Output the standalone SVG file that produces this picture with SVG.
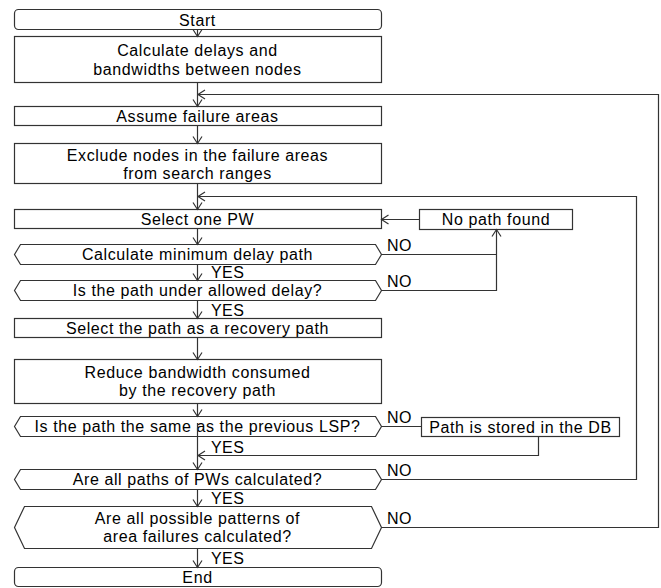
<svg xmlns="http://www.w3.org/2000/svg" width="661" height="588" viewBox="0 0 661 588">
  <style>
    .box { fill: #fff; stroke: #333; stroke-width: 1.2; }
    .ln { fill: none; stroke: #333; stroke-width: 1.2; }
    .t { font-family: "Liberation Sans", Arial, sans-serif; font-size: 16px; letter-spacing: 0.6px; fill: #000; text-anchor: middle; }
    .lbl { font-family: "Liberation Sans", Arial, sans-serif; font-size: 16px; letter-spacing: 0.4px; fill: #000; }
  </style>
  <defs>
    <marker id="arr" markerUnits="userSpaceOnUse" markerWidth="12" markerHeight="12" refX="0" refY="0" viewBox="-8 -6 10 12" orient="auto">
      <path d="M-7,-4.5 L0,0 L-7,4.5" fill="none" stroke="#333" stroke-width="1.2"/>
    </marker>
  </defs>

  <!-- flow nodes -->
  <g id="start">
    <rect class="box" x="14.5" y="9.5" width="367" height="20" rx="4"/>
    <text class="t" x="197.5" y="25.5">Start</text>
  </g>
  <g id="calc-delays">
    <rect class="box" x="14.5" y="36.5" width="367" height="46"/>
    <text class="t" x="197.5" y="56">Calculate delays and</text>
    <text class="t" x="197.5" y="75">bandwidths between nodes</text>
  </g>
  <g id="assume-areas">
    <rect class="box" x="14.5" y="106.5" width="367" height="19"/>
    <text class="t" x="197.5" y="121.5">Assume failure areas</text>
  </g>
  <g id="exclude-nodes">
    <rect class="box" x="14.5" y="143.5" width="367" height="40"/>
    <text class="t" x="197.5" y="160.5">Exclude nodes in the failure areas</text>
    <text class="t" x="197.5" y="178.5">from search ranges</text>
  </g>
  <g id="select-pw">
    <rect class="box" x="14.5" y="209.5" width="367" height="19"/>
    <text class="t" x="197.5" y="224.5">Select one PW</text>
  </g>
  <g id="no-path">
    <rect class="box" x="419.5" y="209.5" width="153" height="20"/>
    <text class="t" x="496" y="225">No path found</text>
  </g>
  <g id="calc-min-delay">
    <polygon class="box" points="14.5,254.5 20.5,244.5 375.5,244.5 381.5,254.5 375.5,264.5 20.5,264.5"/>
    <text class="t" x="197.5" y="260">Calculate minimum delay path</text>
  </g>
  <g id="under-allowed">
    <polygon class="box" points="14.5,290.5 20.5,280.5 375.5,280.5 381.5,290.5 375.5,300.5 20.5,300.5"/>
    <text class="t" x="197.5" y="296">Is the path under allowed delay?</text>
  </g>
  <g id="select-recovery">
    <rect class="box" x="14.5" y="318.5" width="367" height="19"/>
    <text class="t" x="197.5" y="333.5">Select the path as a recovery path</text>
  </g>
  <g id="reduce-bw">
    <rect class="box" x="14.5" y="359.5" width="367" height="44"/>
    <text class="t" x="197.5" y="377.5">Reduce bandwidth consumed</text>
    <text class="t" x="197.5" y="395.5">by the recovery path</text>
  </g>
  <g id="same-as-lsp">
    <polygon class="box" points="14.5,426.5 20.5,416.5 375.5,416.5 381.5,426.5 375.5,436.5 20.5,436.5"/>
    <text class="t" x="197.5" y="432">Is the path the same as the previous LSP?</text>
  </g>
  <g id="stored-db">
    <rect class="box" x="421.5" y="417.5" width="198" height="19"/>
    <text class="t" x="520.5" y="432.5">Path is stored in the DB</text>
  </g>
  <g id="all-pw-paths">
    <polygon class="box" points="14.5,479.5 20.5,469.5 375.5,469.5 381.5,479.5 375.5,489.5 20.5,489.5"/>
    <text class="t" x="197.5" y="485">Are all paths of PWs calculated?</text>
  </g>
  <g id="all-patterns">
    <polygon class="box" points="14.5,527.5 24.5,506.5 371.5,506.5 381.5,527.5 371.5,548.5 24.5,548.5"/>
    <text class="t" x="197.5" y="523.5">Are all possible patterns of</text>
    <text class="t" x="197.5" y="541.5">area failures calculated?</text>
  </g>
  <g id="end">
    <rect class="box" x="14.5" y="567.5" width="367" height="19" rx="4"/>
    <text class="t" x="197.5" y="582.5">End</text>
  </g>

  <!-- connectors -->
  <g id="connectors">
    <path class="ln" d="M197.5,29.5 V36.5" marker-end="url(#arr)"/>
    <path class="ln" d="M197.5,82.5 V106.5" marker-end="url(#arr)"/>
    <path class="ln" d="M197.5,125.5 V143.5" marker-end="url(#arr)"/>
    <path class="ln" d="M197.5,183.5 V209.5" marker-end="url(#arr)"/>
    <path class="ln" d="M197.5,228.5 V244.5" marker-end="url(#arr)"/>
    <path class="ln" d="M197.5,264.5 V280.5" marker-end="url(#arr)"/>
    <path class="ln" d="M197.5,300.5 V318.5" marker-end="url(#arr)"/>
    <path class="ln" d="M197.5,337.5 V359.5" marker-end="url(#arr)"/>
    <path class="ln" d="M197.5,403.5 V416.5" marker-end="url(#arr)"/>
    <path class="ln" d="M197.5,423 V469.5" marker-end="url(#arr)"/>
    <path class="ln" d="M197.5,489.5 V506.5" marker-end="url(#arr)"/>
    <path class="ln" d="M197.5,548.5 V567.5" marker-end="url(#arr)"/>

    <!-- no path found loop -->
    <path class="ln" d="M381.5,254.5 H496.5"/>
    <path class="ln" d="M381.5,290.5 H496.5 V229.5" marker-end="url(#arr)"/>
    <path class="ln" d="M419.5,219.5 H381.5" marker-end="url(#arr)"/>

    <!-- stored in DB -->
    <path class="ln" d="M381.5,426.5 H421.5"/>
    <path class="ln" d="M538.5,436.5 V455.5 H198" marker-end="url(#arr)"/>

    <!-- outer loops -->
    <path class="ln" d="M381.5,479.5 H636.5 V196.5 H198" marker-end="url(#arr)"/>
    <path class="ln" d="M381.5,527.5 H658.5 V94.5 H198" marker-end="url(#arr)"/>

    <!-- branch labels -->
    <text class="lbl" x="387" y="251">NO</text>
    <text class="lbl" x="387" y="287">NO</text>
    <text class="lbl" x="387" y="423">NO</text>
    <text class="lbl" x="387" y="476">NO</text>
    <text class="lbl" x="387" y="524">NO</text>
    <text class="lbl" x="211" y="278">YES</text>
    <text class="lbl" x="211" y="315.5">YES</text>
    <text class="lbl" x="211" y="453">YES</text>
    <text class="lbl" x="211" y="503.5">YES</text>
    <text class="lbl" x="211" y="564">YES</text>
  </g>
</svg>
